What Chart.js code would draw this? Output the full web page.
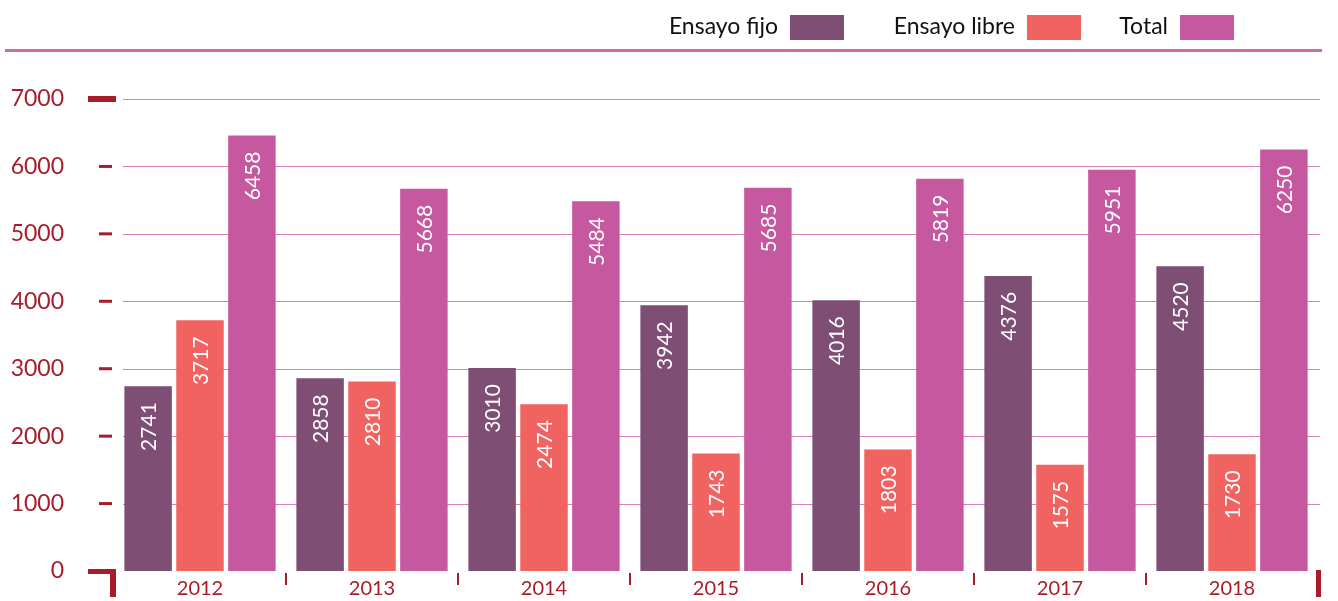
<!DOCTYPE html>
<html><head><meta charset="utf-8">
<script src="https://cdn.jsdelivr.net/npm/chart.js@4.4.1/dist/chart.umd.min.js"></script>
<style>html,body{margin:0;padding:0;background:#fff;}#wrap{width:1338px;height:601px;}</style>
</head><body><div id="wrap"><canvas id="c" width="1338" height="601"></canvas></div>
<script>
const years = ['2012','2013','2014','2015','2016','2017','2018'];
const ensayoFijo = [2741, 2858, 3010, 3942, 4016, 4376, 4520];
const ensayoLibre = [3717, 2810, 2474, 1743, 1803, 1575, 1730];
const total = [6458, 5668, 5484, 5685, 5819, 5951, 6250];
const seriesNames = ['Ensayo fijo', 'Ensayo libre', 'Total'];
const seriesColors = ['#7e4e75', '#f16360', '#c5589f'];
const yTickValues = [0, 1000, 2000, 3000, 4000, 5000, 6000, 7000];

const RED = '#a81d2a';
const FONT = 'Lato, "Open Sans", sans-serif';

function rect(ctx, x0, y0, x1, y1){ ctx.fillRect(x0, y0, x1 - x0, y1 - y0); }

const decor = {
  id: 'decor',
  beforeDatasetsDraw(chart){
    const {ctx, chartArea: a, scales: {x, y}} = chart;
    ctx.save();
    // top rule
    ctx.fillStyle = '#d268a8';
    rect(ctx, 5, 49, a.right + 4, 52);
    // gridlines
    ctx.strokeStyle = '#d97fbb';
    ctx.lineWidth = 1;
    y.ticks.forEach(t => {
      if (t.value === 0) return;
      const py = Math.round(y.getPixelForValue(t.value)) + 0.5;
      ctx.beginPath(); ctx.moveTo(a.left + 9, py); ctx.lineTo(a.right + 2, py); ctx.stroke();
    });
    // y tick dashes
    ctx.fillStyle = RED;
    y.ticks.forEach((t, i) => {
      const py = y.getPixelForValue(t.value);
      if (t.value === 0) {
        rect(ctx, a.left - 26, py - 2, a.left + 2, py + 3);
        rect(ctx, a.left - 4, py - 2, a.left + 2, py + 26);
      } else if (i === y.ticks.length - 1) {
        rect(ctx, a.left - 26, py - 3, a.left + 2, py + 3);
      } else {
        rect(ctx, a.left - 15, py - 1.5, a.left - 2, py + 1.5);
      }
    });
    // x separators
    for (let i = 1; i < years.length; i++) {
      const bx = (x.getPixelForValue(i - 1) + x.getPixelForValue(i)) / 2;
      rect(ctx, bx - 1, a.bottom + 2, bx + 1, a.bottom + 14);
    }
    rect(ctx, a.right - 2, a.bottom - 1, a.right + 3, a.bottom + 26);
    ctx.restore();
  },
  afterDatasetsDraw(chart){
    const {ctx} = chart;
    ctx.save();
    ctx.fillStyle = '#ffffff';
    ctx.font = '21px ' + FONT;
    ctx.textAlign = 'right';
    ctx.textBaseline = 'middle';
    chart.data.datasets.forEach((ds, di) => {
      const meta = chart.getDatasetMeta(di);
      meta.data.forEach((bar, i) => {
        ctx.save();
        ctx.translate(bar.x + 1, bar.y + 16);
        ctx.rotate(-Math.PI / 2);
        ctx.fillText(String(ds.data[i]), 0, 0);
        ctx.restore();
      });
    });
    ctx.restore();
  },
  afterDraw(chart){
    const {ctx} = chart;
    ctx.save();
    const boxX = [790, 1027, 1180];
    ctx.font = '23px ' + FONT;
    ctx.textAlign = 'right';
    ctx.textBaseline = 'middle';
    chart.data.datasets.forEach((ds, di) => {
      ctx.fillStyle = ds.backgroundColor;
      ctx.fillRect(boxX[di], 15, 54, 25);
      ctx.fillStyle = '#111111';
      ctx.fillText(ds.label, boxX[di] - 12, 27);
    });
    ctx.restore();
  }
};

new Chart(document.getElementById('c'), {
  type: 'bar',
  data: {
    labels: years,
    datasets: [
      {label: seriesNames[0], data: ensayoFijo, backgroundColor: seriesColors[0]},
      {label: seriesNames[1], data: ensayoLibre, backgroundColor: seriesColors[1]},
      {label: seriesNames[2], data: total, backgroundColor: seriesColors[2]}
    ]
  },
  options: {
    responsive: false,
    animation: false,
    devicePixelRatio: 1,
    layout: {padding: {top: 99, right: 20, bottom: 0, left: 0}},
    datasets: {bar: {categoryPercentage: 0.905, barPercentage: 0.915, borderWidth: 0}},
    plugins: {legend: {display: false}, tooltip: {enabled: false}, title: {display: false}},
    scales: {
      x: {
        grid: {display: false, drawTicks: false},
        border: {display: false},
        ticks: {color: RED, font: {family: FONT, size: 20}, padding: 6},
        afterFit(s){ s.height = 30; }
      },
      y: {
        min: 0, max: 7000,
        afterBuildTicks(s){ s.ticks = yTickValues.map(v => ({value: v})); },
        grid: {display: false, drawTicks: false},
        border: {display: false},
        ticks: {color: RED, font: {family: FONT, size: 23}, padding: 50, callback: v => String(v)},
        afterFit(s){ s.width = 114; s.paddingTop = 12; s.paddingBottom = 12; }
      }
    }
  },
  plugins: [decor]
});
</script>
</body></html>
